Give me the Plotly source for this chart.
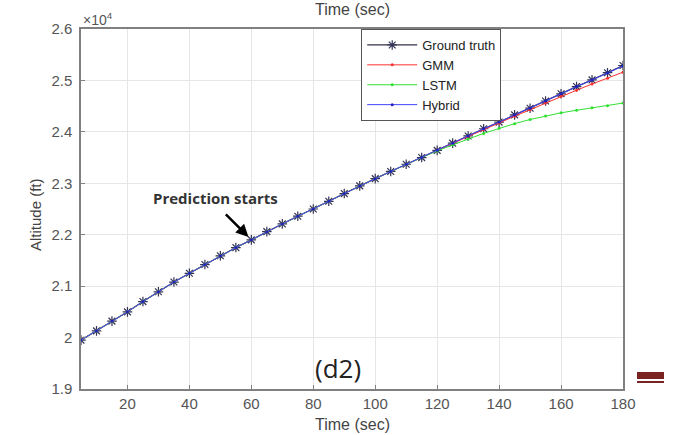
import plotly.graph_objects as go

time_s = [5, 10, 15, 20, 25, 30, 35, 40, 45, 50, 55, 60, 65, 70, 75, 80, 85, 90,
          95, 100, 105, 110, 115, 120, 125, 130, 135, 140, 145, 150, 155, 160, 165, 170, 175, 180]
ground_truth = [19950, 20130, 20320, 20500, 20700, 20890, 21080, 21250, 21420, 21590, 21750, 21900,
                22060, 22210, 22360, 22500, 22650, 22800, 22950, 23090, 23230, 23370, 23500, 23640,
                23780, 23920, 24060, 24190, 24330, 24460, 24600, 24740, 24880, 25010, 25150, 25290]
gmm = [19950, 20130, 20320, 20500, 20700, 20890, 21080, 21250, 21420, 21590, 21750, 21900,
       22060, 22210, 22360, 22500, 22650, 22800, 22950, 23090, 23230, 23370, 23500, 23640,
       23775, 23910, 24045, 24170, 24305, 24430, 24560, 24690, 24810, 24930, 25040, 25160]
lstm = [19950, 20130, 20320, 20500, 20700, 20890, 21080, 21250, 21420, 21590, 21750, 21900,
        22060, 22210, 22360, 22500, 22650, 22800, 22950, 23090, 23230, 23370, 23500, 23630,
        23750, 23860, 23970, 24070, 24160, 24240, 24310, 24370, 24420, 24470, 24510, 24560]
hybrid = [19950, 20130, 20320, 20500, 20700, 20890, 21080, 21250, 21420, 21590, 21750, 21900,
          22060, 22210, 22360, 22500, 22650, 22800, 22950, 23090, 23230, 23370, 23500, 23640,
          23780, 23920, 24060, 24190, 24330, 24460, 24600, 24740, 24880, 25010, 25150, 25280]
x_ticks = [20, 40, 60, 80, 100, 120, 140, 160, 180]
y_ticks = [19000, 20000, 21000, 22000, 23000, 24000, 25000, 26000]
y_tick_text = ["1.9", "2", "2.1", "2.2", "2.3", "2.4", "2.5", "2.6"]

fig = go.Figure()
fig.add_trace(go.Scatter(x=time_s, y=ground_truth, name="Ground truth", mode="lines+markers",
                         line=dict(color="#333344", width=1.2),
                         marker=dict(symbol="asterisk-open", size=8, color="#333355", line=dict(width=1.2, color="#333355"))))
fig.add_trace(go.Scatter(x=time_s, y=gmm, name="GMM", mode="lines+markers",
                         line=dict(color="#ff3030", width=1),
                         marker=dict(symbol="circle", size=3, color="#ff3030")))
fig.add_trace(go.Scatter(x=time_s, y=lstm, name="LSTM", mode="lines+markers",
                         line=dict(color="#30e030", width=1),
                         marker=dict(symbol="circle", size=3, color="#30e030")))
fig.add_trace(go.Scatter(x=time_s, y=hybrid, name="Hybrid", mode="lines+markers",
                         line=dict(color="#4040ff", width=1),
                         marker=dict(symbol="circle", size=3, color="#2020c0")))

axis_common = dict(showline=True, linecolor="#808080", linewidth=1.5, mirror=True,
                   showgrid=True, gridcolor="#e6e6e6", gridwidth=1, zeroline=False,
                   ticks="inside", ticklen=4, tickcolor="#808080",
                   tickfont=dict(family="Liberation Sans, Arial", size=15, color="#555555"))

fig.update_layout(
    width=675, height=435,
    margin=dict(l=81, r=52, t=29, b=46),
    paper_bgcolor="white", plot_bgcolor="white",
    showlegend=True,
    legend=dict(x=0.517, y=1.0, xanchor="left", yanchor="top",
                bgcolor="white", bordercolor="#555555", borderwidth=1,
                font=dict(family="Liberation Sans, Arial", size=13, color="#222222"),
                tracegroupgap=0, itemwidth=50),
    xaxis=dict(range=[5, 180], tickvals=x_ticks, **axis_common),
    yaxis=dict(range=[19000, 26000], tickvals=y_ticks, ticktext=y_tick_text, ticklabelstandoff=4, **axis_common),
)

fig.add_annotation(x=0.5, y=1.0, xref="paper", yref="paper", yanchor="middle", yshift=20,
                   text="Time (sec)", showarrow=False,
                   font=dict(family="Liberation Sans, Arial", size=16, color="#444444"))
fig.add_annotation(x=0.5, y=0, xref="paper", yref="paper", yanchor="middle", yshift=-35,
                   text="Time (sec)", showarrow=False,
                   font=dict(family="Liberation Sans, Arial", size=16, color="#444444"))
fig.add_annotation(x=0, y=0.5, xref="paper", yref="paper", xanchor="center", xshift=-46, yshift=-6,
                   text="Altitude (ft)", textangle=-90, showarrow=False,
                   font=dict(family="Liberation Sans, Arial", size=15, color="#444444"))
fig.add_annotation(x=0, y=1, xref="paper", yref="paper", xanchor="left", yanchor="bottom", xshift=0, yshift=-1,
                   text="×10<sup>4</sup>", showarrow=False,
                   font=dict(family="Liberation Sans, Arial", size=14, color="#555555"))
fig.add_annotation(x=60, y=21900, ax=-27, ay=-27, axref="pixel", ayref="pixel",
                   text="", showarrow=True, arrowhead=2, arrowsize=1, arrowwidth=2.5,
                   arrowcolor="black", standoff=4)
fig.add_annotation(x=48.5, y=22720, text="<b>Prediction starts</b>", showarrow=False,
                   font=dict(family="Open Sans", size=15, color="#333333"))
fig.add_annotation(x=88, y=19400, text="(d2)", showarrow=False,
                   font=dict(family="Open Sans", size=26, color="#222222"))

fig.add_shape(type="rect", xref="paper", yref="paper",
              x0=(637 - 81) / 542, x1=(664 - 81) / 542, y0=(435 - 46 - 379) / 360, y1=(435 - 46 - 372) / 360,
              fillcolor="#7a2222", line=dict(width=0))
fig.add_shape(type="rect", xref="paper", yref="paper",
              x0=(637 - 81) / 542, x1=(664 - 81) / 542, y0=(435 - 46 - 383) / 360, y1=(435 - 46 - 381) / 360,
              fillcolor="#7a2222", line=dict(width=0))

fig.write_html("out.html", config={"displayModeBar": False},
               post_script="document.body.style.margin='0';")
